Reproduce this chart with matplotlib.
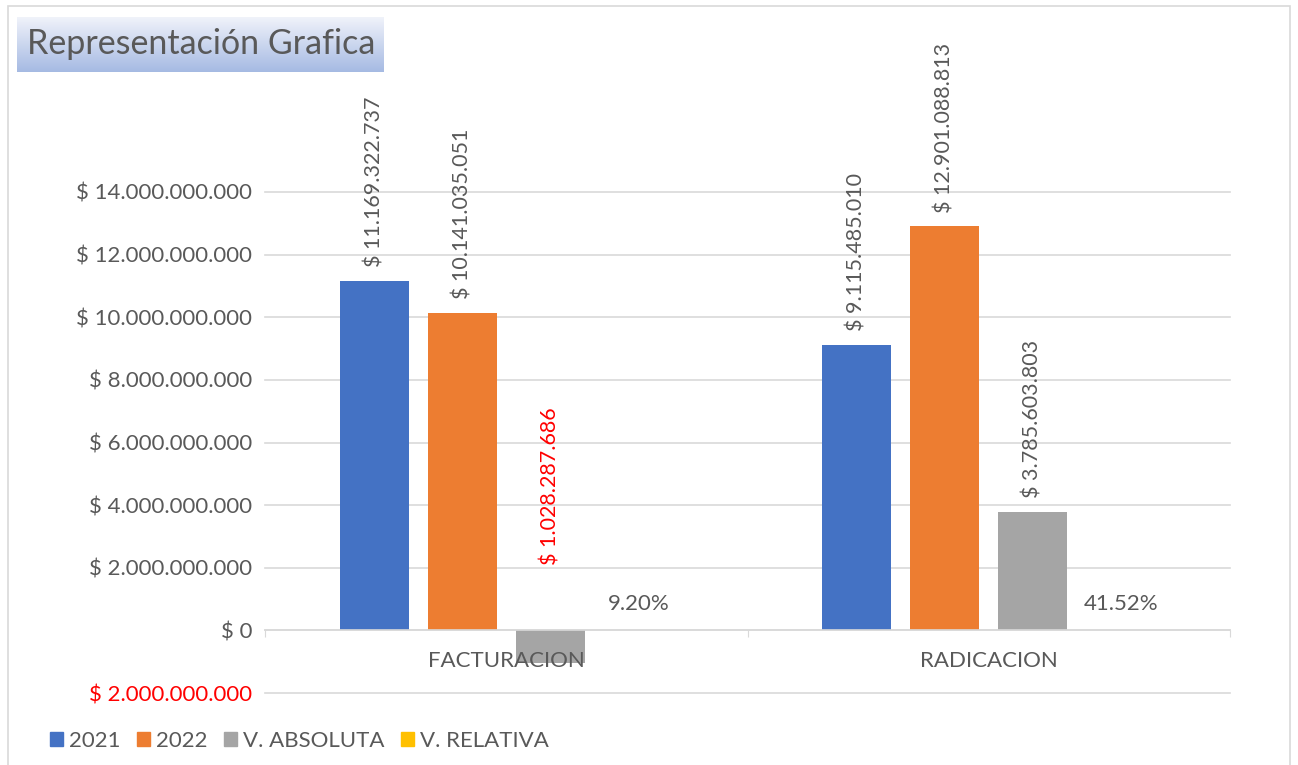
import matplotlib.pyplot as plt
import numpy as np
from matplotlib.patches import Rectangle, Patch

categories = ["FACTURACION", "RADICACION"]
series = ["2021", "2022", "V. ABSOLUTA", "V. RELATIVA"]
values_2021 = [11169322737, 9115485010]
values_2022 = [10141035051, 12901088813]
values_abs = [-1028287686, 3785603803]
values_rel = [-0.0920, 0.4152]
colors = ["#4472C4", "#ED7D31", "#A5A5A5", "#FFC000"]
yticks = np.arange(-2e9, 14e9 + 1, 2e9)

TXT = "#595959"
FS = 16
plt.rcParams["font.family"] = ["Lato", "DejaVu Sans"]


def money(v):
    s = f"{abs(v):,.0f}".replace(",", ".")
    return f"$ {s}"


def main():
    fig = plt.figure(figsize=(12.98, 7.65), dpi=100)
    ax = fig.add_axes([265 / 1298, 72 / 765, 965 / 1298, 501 / 765])

    x = np.arange(len(categories))
    width = 0.143
    step = 0.1826
    all_vals = [values_2021, values_2022, values_abs, values_rel]

    for k, (vals, col) in enumerate(zip(all_vals, colors)):
        pos = x + (k - 1.5) * step
        ax.bar(pos, vals, width, color=col, zorder=3)
        for p, v in zip(pos, vals):
            if k == 3:
                ax.annotate(f"{abs(v) * 100:.2f}%", (p, 0), xytext=(0, 19),
                            textcoords="offset points", ha="center",
                            va="center", fontsize=FS, color=TXT)
            elif v < 0:
                ax.annotate(money(v), (p, 0), xytext=(0, 47),
                            textcoords="offset points", ha="center",
                            va="bottom", rotation=90, fontsize=FS - 0.5,
                            color="red")
            else:
                ax.annotate(money(v), (p, v), xytext=(0, 10),
                            textcoords="offset points", ha="center",
                            va="bottom", rotation=90, fontsize=FS - 0.5,
                            color=TXT)

    ax.set_xlim(-0.5, 1.5)
    ax.set_ylim(-2e9, 14e9)
    ax.set_yticks(yticks)
    labels = ax.set_yticklabels([money(v) if v != 0 else "$ 0" for v in yticks])
    for lab, v in zip(labels, yticks):
        lab.set_color("red" if v < 0 else TXT)
    ax.tick_params(axis="y", length=0, pad=9, labelsize=FS)
    ax.grid(axis="y", color="#d9d9d9", linewidth=1.2, zorder=0)
    for gl in ax.get_ygridlines():
        gl.set_clip_on(False)

    for s in ["top", "right", "left"]:
        ax.spines[s].set_visible(False)
    ax.spines["bottom"].set_position(("data", 0))
    ax.spines["bottom"].set_color("#d9d9d9")
    ax.spines["bottom"].set_linewidth(1.2)
    ax.spines["bottom"].set_zorder(4)
    ax.set_xticks([-0.5, 0.5, 1.5])
    ax.set_xticklabels([])
    ax.set_xticks(x, minor=True)
    ax.set_xticklabels(categories, minor=True)
    ax.tick_params(axis="x", which="major", length=5, color="#d9d9d9")
    ax.tick_params(axis="x", which="minor", length=0, pad=15,
                   labelsize=FS, labelcolor=TXT)
    ax.xaxis.set_zorder(5)

    handles = [Patch(color=c) for c in colors]
    fig.legend(handles, series, loc="center left",
               bbox_to_anchor=(30 / 1298, 1 - 741 / 765), ncol=4,
               frameon=False, fontsize=FS, handlelength=0.6,
               handleheight=0.6, handletextpad=0.25, columnspacing=0.75,
               labelcolor=TXT)

    # chart border
    fig.patches.append(Rectangle((8 / 1298, -0.1), 1282 / 1298, 1.1 - 6 / 765,
                                 transform=fig.transFigure, fill=False,
                                 edgecolor="#d9d9d9", linewidth=1.2))

    # title box with gradient
    tax = fig.add_axes([17 / 1298, 1 - 72 / 765, 367 / 1298, 55 / 765])
    top = np.array([0.94, 0.95, 0.98])
    bot = np.array([0.65, 0.73, 0.89])
    t = np.linspace(0, 1, 64)[:, None]
    grad = top * (1 - t[..., None]) + bot * t[..., None]
    grad = np.repeat(grad, 2, axis=1)
    tax.imshow(grad, aspect="auto", extent=(0, 1, 0, 1))
    tax.set_axis_off()
    tax.text(0.027, 0.5, "Representación Grafica", fontsize=24.5, color=TXT,
             va="center", ha="left", transform=tax.transAxes)

    fig.savefig("out.png", dpi=100)


if __name__ == "__main__":
    main()
